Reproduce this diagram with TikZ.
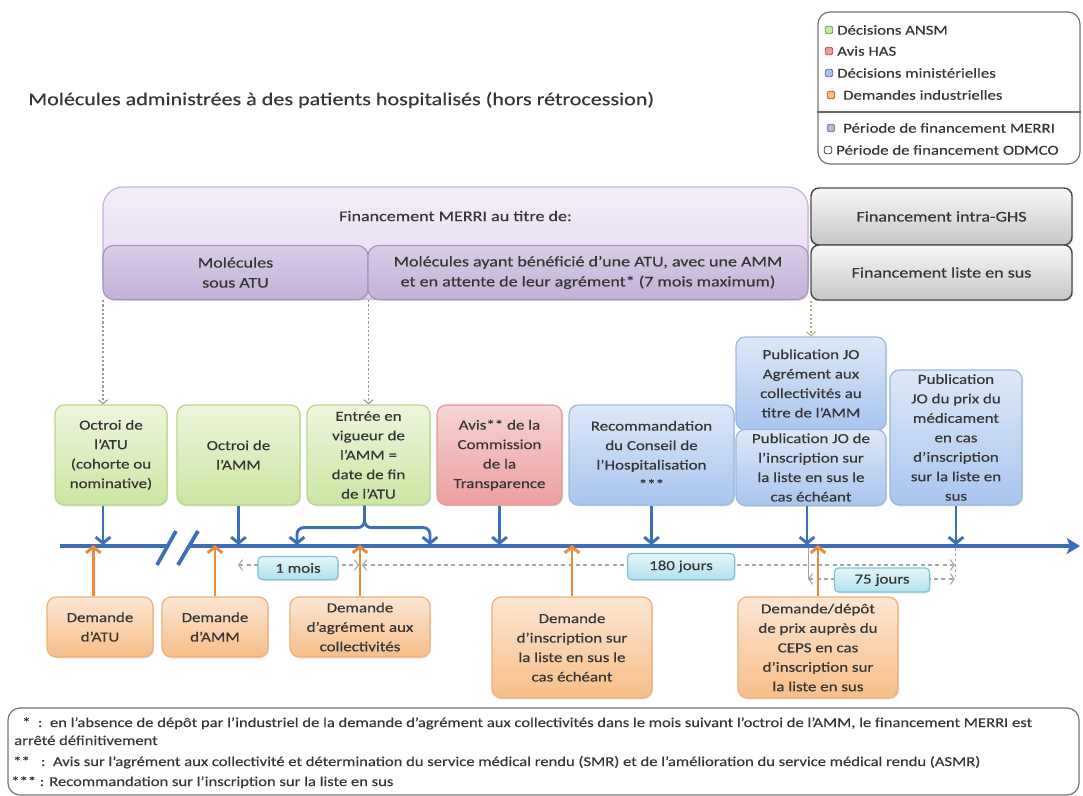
\documentclass[tikz,border=0pt]{standalone}
\usepackage{fontspec}
\setmainfont{Carlito}[FakeStretch=1.22,FakeBold=0.4]
\usetikzlibrary{arrows.meta,shadows}
\definecolor{txt}{HTML}{363636}
\definecolor{grT}{HTML}{EDF6DC}\definecolor{grB}{HTML}{CBE5A2}\definecolor{grD}{HTML}{BAD68C}
\definecolor{rdT}{HTML}{F7D4D4}\definecolor{rdB}{HTML}{EC9E9E}\definecolor{rdD}{HTML}{E09A9A}
\definecolor{blT}{HTML}{DDE8F7}\definecolor{blB}{HTML}{A8C5EE}\definecolor{blD}{HTML}{9BB8E0}
\definecolor{orT}{HTML}{FCE6D2}\definecolor{orB}{HTML}{F7BE88}\definecolor{orD}{HTML}{EFB07A}
\definecolor{cyT}{HTML}{E4F6FA}\definecolor{cyB}{HTML}{B0E1EE}\definecolor{cyD}{HTML}{7EC4D6}
\definecolor{pbT}{HTML}{F3EEF9}\definecolor{pbB}{HTML}{E2D5F0}\definecolor{pbD}{HTML}{C4B3DA}
\definecolor{psT}{HTML}{D8CDE6}\definecolor{psB}{HTML}{C2B1D8}\definecolor{psD}{HTML}{A494C2}
\definecolor{gyT}{HTML}{F8F8F8}\definecolor{gyB}{HTML}{C6C6C6}\definecolor{gyD}{HTML}{4A4A4A}
\definecolor{aB}{HTML}{3D6FB6}\definecolor{aO}{HTML}{EE8A3C}
\definecolor{dG}{HTML}{A3B487}
\newcommand\fsbox{\fontsize{10.4}{14.6}\selectfont}
\newcommand\fshdr{\fontsize{11.1}{15}\selectfont}
\newcommand\fsleg{\fontsize{10.3}{13}\selectfont}
\newcommand\fsnote{\fontsize{10.2}{12}\selectfont}
\newcommand\fstitle{\fontsize{13.6}{16}\selectfont}
\begin{document}
\begin{tikzpicture}[x=0.75pt,y=-0.75pt,
  every node/.style={text=txt},
  wh/.style 2 args={minimum width=#1*0.75pt, minimum height=#2*0.75pt},
  base/.style={rounded corners=7pt, line width=0.9pt, align=center, inner sep=0pt, font=\fsbox,
    drop shadow={shadow xshift=0.8pt, shadow yshift=-1pt, opacity=0.25, fill=black!50}},
  gbox/.style={base, draw=grD, top color=grT, bottom color=grB},
  rbox/.style={base, draw=rdD, top color=rdT, bottom color=rdB},
  bbox/.style={base, draw=blD, top color=blT, bottom color=blB},
  obox/.style={base, draw=orD, top color=orT, bottom color=orB},
  cbox/.style={base, rounded corners=3pt, draw=cyD, top color=cyT, bottom color=cyB},
  pbig/.style={base, rounded corners=15pt, draw=pbD, top color=pbT, bottom color=pbB, drop shadow={opacity=0}},
  psub/.style={base, font=\fshdr, rounded corners=8pt, draw=psD, top color=psT, bottom color=psB},
  gybox/.style={base, font=\fshdr, rounded corners=6pt, line width=1.1pt, draw=gyD, top color=gyT, bottom color=gyB},
  barrow/.style={draw=aB, line width=2.2pt, -{Straight Barb[length=4.5pt,width=11pt]}},
  oarrow/.style={draw=aO, line width=2.2pt, -{Straight Barb[length=4.5pt,width=11pt]}},
  tline/.style={draw=aB, line width=2.8pt},
  dotarr/.style={draw=black!40, line width=1pt, dash pattern=on 1.6pt off 1.6pt, -{Straight Barb[length=3pt,width=7pt,line width=0.8pt]}},
  dint/.style={draw=black!35, line width=0.8pt, dash pattern=on 3pt off 2.5pt, {Straight Barb[length=3pt,width=8pt]}-{Straight Barb[length=3pt,width=8pt]}},
  gline/.style={draw=black!35, line width=0.7pt},
  lb/.style={minimum size=5.5pt, inner sep=0pt, rounded corners=1.5pt, line width=0.6pt},
  lt/.style={anchor=west, font=\fsleg, inner sep=0pt}
]
\useasboundingbox (0,0) rectangle (1083,796);

% title
\node[anchor=west, font=\fstitle, inner sep=0pt] (title) at (28,100) {Molécules administrées à des patients hospitalisés (hors rétrocession)};

% legend
\node[draw=black!55, line width=0.9pt, rounded corners=9pt, wh={262}{152}] (legend) at (949,88) {};
\node[lb, draw=green!50!black!70, fill=grB] (b1) at (829,30) {};
\node[lt] (l1) at (837,30) {Décisions ANSM};
\node[lb, draw=red!60!black!70, fill=rdB] (b2) at (829,51) {};
\node[lt] (l2) at (837,51) {Avis HAS};
\node[lb, draw=blue!50!black!60, fill=blB] (b3) at (829,73) {};
\node[lt] (l3) at (837,73) {Décisions ministérielles};
\node[lb, draw=orange!70!black, fill=orB] (b4) at (831,95) {};
\node[lt] (l4) at (843,95) {Demandes industrielles};
\draw[black!60, line width=0.8pt] (legend.west |- 0,112) -- (legend.east |- 0,112);
\node[lb, draw=violet!50!black!60, fill=psB] (b5) at (831,128) {};
\node[lt] (l5) at (843,128) {Période de financement MERRI};
\node[lb, draw=black!75, fill=white] (b6) at (828,150) {};
\node[lt] (l6) at (836,150) {Période de financement ODMCO};

% top bands
\node[pbig, wh={705}{112}] (merri) at (455.5,243) {};
\node[font=\fshdr, inner sep=0pt] (merriT) at (455.5,216) {Financement MERRI au titre de:};
\node[psub, wh={265}{54}] (sub1) at (235.5,272.5) {Molécules\\sous ATU};
\node[psub, wh={440}{54}] (sub2) at (588,272.5) {Molécules ayant bénéficié d’une ATU, avec une AMM\\et en attente de leur agrément* (7 mois maximum)};
\node[gybox, wh={261}{57}] (ghs) at (941.5,216.5) {Financement intra-GHS};
\node[gybox, wh={261}{55}] (sus) at (941.5,272.5) {Financement liste en sus};

% upper row of boxes
\node[gbox, wh={112}{100}] (atu) at (111,455) {Octroi de\\l’ATU\\(cohorte ou\\nominative)};
\node[gbox, wh={123}{100}] (amm) at (238.5,455) {Octroi de\\l’AMM};
\node[gbox, wh={123}{100}] (entree) at (368.5,455) {Entrée en\\vigueur de\\l’AMM =\\date de fin\\de l’ATU};
\node[rbox, wh={125}{100}] (avis) at (499.5,455) {Avis** de la\\Commission\\de la\\Transparence};
\node[bbox, wh={165}{100}] (rec) at (651.5,455) {Recommandation\\du Conseil de\\l’Hospitalisation\\***};
\node[bbox, wh={150}{93}] (pubA) at (811,383.5) {Publication JO\\Agrément aux\\collectivités au\\titre de l’AMM};
\node[bbox, wh={150}{76}] (pubB) at (811,467.5) {Publication JO de\\l’inscription sur\\la liste en sus le\\cas échéant};
\node[bbox, wh={132}{135}] (prix) at (956,437.5) {Publication\\JO du prix du\\médicament\\en cas\\d’inscription\\sur la liste en\\sus};

% dotted arrows from the bands
\draw[dotarr] ([xshift=-6pt]atu.north |- sub1.south) -- ([xshift=-6pt]atu.north);
\draw[dotarr] (entree.north |- sub1.south) -- (entree.north);
\draw[dotarr, draw=dG] (pubA.north |- sus.south) -- (pubA.north);

% timeline
\coordinate (t0) at (60,546);
\coordinate (tg1) at (167,546);
\coordinate (tg2) at (190,546);
\coordinate (tend) at (1080,546);
\draw[tline] (t0) -- (tg1);
\draw[tline, -{Stealth[length=10pt,width=12pt,inset=2.5pt]}] (tg2) -- (tend);
\coordinate (s1a) at (157,565); \coordinate (s1b) at (176,531);
\coordinate (s2a) at (178,565); \coordinate (s2b) at (198,531);
\draw[tline] (s1a) -- (s1b);
\draw[tline] (s2a) -- (s2b);
\coordinate (tl) at (0,545);

% intervals
\coordinate (i1a) at (238,565); \coordinate (i1b) at (359,565);
\coordinate (i2a) at (362,565); \coordinate (i2b) at (955,565);
\coordinate (i3a) at (808,579); \coordinate (i3b) at (955,579);
\coordinate (v1) at (808,548); \coordinate (v2) at (955,548);
\draw[gline] (v1) -- (i3a);
\draw[gline, dash pattern=on 2pt off 2pt] (v2) -- (i3b);
\draw[dint] (i1a) -- (i1b);
\draw[dint] (i2a) -- (i2b);
\draw[dint] (i3a) -- (i3b);
\node[cbox, wh={80}{23}] (m1) at (298,568) {1 mois};
\node[cbox, wh={107}{26}] (m2) at (681,566.5) {180 jours};
\node[cbox, wh={95}{24}] (m3) at (882,580) {75 jours};

% blue arrows down
\draw[barrow] ([xshift=-6pt]atu.south) -- ([xshift=-6pt]atu.south |- tl);
\draw[barrow] (amm.south) -- (amm.south |- tl);
\coordinate (bl) at (297,545);
\coordinate (br) at (430,545);
\draw[barrow, rounded corners=5pt] ([xshift=-3pt]entree.south) -- ++(0,22) -| (bl);
\draw[barrow, rounded corners=5pt] ([xshift=-3pt]entree.south) -- ++(0,22) -| (br);
\draw[barrow] (avis.south) -- (avis.south |- tl);
\draw[barrow] (rec.south) -- (rec.south |- tl);
\draw[barrow] ([xshift=-3pt]pubB.south) -- ([xshift=-3pt]pubB.south |- tl);
\draw[barrow] (prix.south) -- (prix.south |- tl);

% lower row of boxes
\node[obox, wh={106}{60}] (dATU) at (100,627) {Demande\\d’ATU};
\node[obox, wh={106}{60}] (dAMM) at (215,627) {Demande\\d’AMM};
\node[obox, wh={140}{60}] (dAgr) at (360,627) {Demande\\d’agrément aux\\collectivités};
\node[obox, wh={160}{101}] (dIns) at (572,647.5) {Demande\\d’inscription sur\\la liste en sus le\\cas échéant};
\node[obox, wh={160}{101}] (dDep) at (818,647.5) {Demande/dépôt\\de prix auprès du\\CEPS en cas\\d’inscription sur\\la liste en sus};

% orange arrows up
\draw[oarrow] ([xshift=-5pt]dATU.north) -- ([xshift=-5pt]dATU.north |- tl);
\draw[oarrow] (dAMM.north) -- (dAMM.north |- tl);
\draw[oarrow] (dAgr.north) -- (dAgr.north |- tl);
\draw[oarrow] (dIns.north) -- (dIns.north |- tl);
\draw[oarrow] (dDep.north) -- (dDep.north |- tl);

% footnotes
\node[draw=black!55, line width=0.9pt, rounded corners=9pt, wh={1071}{87}] (notes) at (543.5,751.5) {};
\node[anchor=base west, font=\fsnote, inner sep=0pt] (n1) at (22,727) {*\ \ :\ \ en l’absence de dépôt par l’industriel de la demande d’agrément aux collectivités dans le mois suivant l’octroi de l’AMM, le financement MERRI est};
\node[anchor=base west, font=\fsnote, inner sep=0pt] (n2) at (14,745) {arrêté définitivement};
\node[anchor=base west, font=\fsnote, inner sep=0pt] (n3) at (13,766) {**\ \ \ :\ \ Avis sur l’agrément aux collectivité et détermination du service médical rendu (SMR) et de l’amélioration du service médical rendu (ASMR)};
\node[anchor=base west, font=\fsnote, inner sep=0pt] (n4) at (11,786) {***\ : Recommandation sur l’inscription sur la liste en sus};
\end{tikzpicture}
\end{document}
